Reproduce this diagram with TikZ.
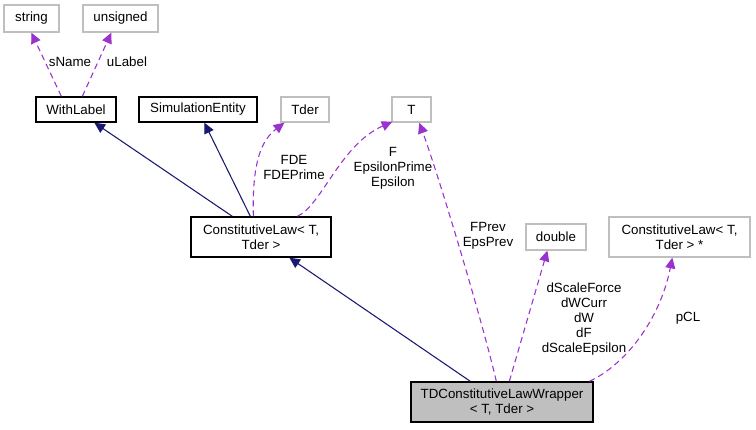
\documentclass[tikz,border=0pt]{standalone}
\usepackage{fontspec}
\setmainfont{Liberation Sans}
\usetikzlibrary{arrows.meta,calc}
\definecolor{edgepurple}{HTML}{9A32CD}
\definecolor{navyblue}{HTML}{191970}
\definecolor{greyline}{HTML}{BFBFBF}
\begin{document}
\begin{tikzpicture}[x=0.75pt,y=-0.75pt,
  font=\fontsize{10pt}{11.25pt}\selectfont,
  cls/.style={draw=black,line width=1pt,inner sep=0pt,align=center,fill=white},
  ext/.style={draw=greyline,line width=1pt,inner sep=0pt,align=center,fill=white},
  focus/.style={draw=black,line width=1pt,fill=greyline,inner sep=0pt,align=center},
  usage/.style={draw=edgepurple,line width=0.8pt,dash pattern=on 4.5pt off 3pt,
    -{Triangle[length=8pt,width=7.5pt]}},
  inherit/.style={draw=navyblue,line width=0.8pt,-{Triangle[length=8pt,width=7.5pt]}},
  lbl/.style={align=center,inner sep=0pt}]
\useasboundingbox (0,0) rectangle (756,429);
\fill[white] (0,0) rectangle (756,429);

% nodes
\node[ext,minimum width=41.25pt,minimum height=20.25pt] (string) at (31.5,18.5) {string};
\node[ext,minimum width=56.25pt,minimum height=20.25pt] (unsigned) at (120.5,18.5) {unsigned};
\node[cls,minimum width=60pt,minimum height=18.75pt] (WithLabel) at (76,109.5) {WithLabel};
\node[cls,minimum width=88.5pt,minimum height=18.75pt] (SimEnt) at (198,109.5) {SimulationEntity};
\node[ext,minimum width=36pt,minimum height=18.75pt] (Tder) at (305,109.5) {Tder};
\node[ext,minimum width=29.25pt,minimum height=18.75pt] (T) at (411.5,109.5) {T};
\node[cls,minimum width=105pt,minimum height=30pt] (CL) at (261,237) {ConstitutiveLaw< T,\\Tder >};
\node[ext,minimum width=45pt,minimum height=19.5pt] (double) at (556,237) {double};
\node[ext,minimum width=105.75pt,minimum height=30pt] (CLp) at (679.5,237) {ConstitutiveLaw< T,\\Tder > *};
\node[focus,minimum width=136.5pt,minimum height=30pt] (TD) at (502,402) {TDConstitutiveLawWrapper\\< T, Tder >};

% edges
\draw[usage] ($(WithLabel.north west)+(26,0)$) -- ($(string.south west)+(28,0)$);
\draw[usage] ($(WithLabel.north west)+(47,0)$) -- ($(unsigned.south west)+(29,0)$);
\draw[inherit] ($(CL.north west)+(42,0)$) -- ($(WithLabel.south west)+(59,0)$);
\draw[inherit] ($(CL.north west)+(60,0)$) -- ($(SimEnt.south west)+(66,0)$);
\draw[usage] ($(CL.north west)+(63,0)$) .. controls (252,160) and (262,140) .. ($(Tder.south west)+(4,0)$);
\draw[usage] ($(CL.north west)+(107,0)$) .. controls (322,205) and (340,145) .. ($(T.south west)+(1,-1)$);
\draw[inherit] ($(TD.north west)+(60,0)$) -- ($(CL.south west)+(99,0)$);
\draw[usage] ($(TD.north west)+(86,0)$) .. controls (482,320) and (440,180) .. ($(T.south west)+(28,0)$);
\draw[usage] ($(TD.north west)+(99,0)$) -- ($(double.south west)+(22,0)$);
\draw[usage] ($(TD.north west)+(179,0)$) .. controls (625,365) and (660,320) .. ($(CLp.south west)+(64,0)$);

% labels
\node[lbl] (lsName) at (70,62) {sName};
\node[lbl] (luLabel) at (127,62) {uLabel};
\node[lbl] (lFDE) at (294,167.5) {FDE\\FDEPrime};
\node[lbl] (lF) at (393,168) {F\\EpsilonPrime\\Epsilon};
\node[lbl] (lFPrev) at (488,236) {FPrev\\EpsPrev};
\node[lbl] (ld) at (584,319) {dScaleForce\\dWCurr\\dW\\dF\\dScaleEpsilon};
\node[lbl] (lpCL) at (688,318) {pCL};
\end{tikzpicture}
\end{document}
